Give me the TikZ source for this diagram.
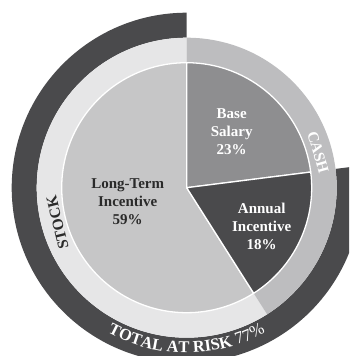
\documentclass[tikz,border=0pt]{standalone}
\usepackage{fontspec}
\setmainfont{Liberation Serif}
\usetikzlibrary{decorations.text}

\definecolor{ringdark}{HTML}{4A4A4C}
\definecolor{ringstock}{HTML}{E6E6E7}
\definecolor{ringcash}{HTML}{BDBDBF}
\definecolor{slicelti}{HTML}{C6C6C7}
\definecolor{slicebase}{HTML}{8E8E90}
\definecolor{sliceannual}{HTML}{4A4A4C}
\definecolor{inktext}{HTML}{2A2A2A}

\begin{document}
\begin{tikzpicture}[
  lbl/.style={font=\fontsize{15}{18}\selectfont\bfseries, align=center},
  ringlbl/.style={font=\fontsize{15.5}{16}\selectfont\bfseries},
  sep/.style={draw=white, line width=1.3pt, line join=round}]
\def\ra{125pt}
\def\rb{150pt}
\def\rc{175pt}

\def\aa{90}
\def\ab{7.2}
\def\abb{367.2}
\def\ac{-57.6}
\def\acc{302.4}

\useasboundingbox (-186.7pt,-168.3pt) rectangle (162.3pt,187.7pt);
\clip (-186.7pt,-168.3pt) rectangle (162.3pt,187.7pt);

% outer ring: total at risk
\fill[ringdark] (\aa:\rc) arc[start angle=\aa, end angle=\abb, radius=\rc]
  -- (\abb:\rb) arc[start angle=\abb, end angle=\aa, radius=\rb] -- cycle;

% middle ring: stock and cash
\fill[ringstock] (\aa:\rb) arc[start angle=\aa, end angle=\acc, radius=\rb]
  -- (\acc:\ra) arc[start angle=\acc, end angle=\aa, radius=\ra] -- cycle;
\fill[ringcash] (\aa:\rb) arc[start angle=\aa, end angle=\ac, radius=\rb]
  -- (\ac:\ra) arc[start angle=\ac, end angle=\aa, radius=\ra] -- cycle;

% pie
\filldraw[sep, fill=slicelti] (0,0) -- (\aa:\ra) arc[start angle=\aa, end angle=\acc, radius=\ra] -- cycle;
\filldraw[sep, fill=slicebase] (0,0) -- (\aa:\ra) arc[start angle=\aa, end angle=\ab, radius=\ra] -- cycle;
\filldraw[sep, fill=sliceannual] (0,0) -- (\ab:\ra) arc[start angle=\ab, end angle=\ac, radius=\ra] -- cycle;

\node[lbl, text=white] (base) at (45pt,56pt) {Base\\Salary\\23\%};
\node[lbl, text=white] (annual) at (75pt,-39pt) {Annual\\Incentive\\18\%};
\node[lbl, text=inktext] (lti) at (-59pt,-14pt) {Long-Term\\Incentive\\59\%};

\node[ringlbl, text=white, rotate=-74] (cash) at (131.3pt,35.2pt) {CASH};
\node[ringlbl, text=inktext, rotate=104] (stock) at (-129.2pt,-34.8pt) {STOCK};

\path[decorate, decoration={text along path, text align=center,
  text={|\fontsize{16.5}{18}\selectfont\bfseries\color{white}|TOTAL AT RISK |\fontsize{17}{18}\selectfont\mdseries\color{white}|77{\%}}}]
  (200:165pt) arc[start angle=200, end angle=340, radius=165pt];

\end{tikzpicture}
\end{document}
